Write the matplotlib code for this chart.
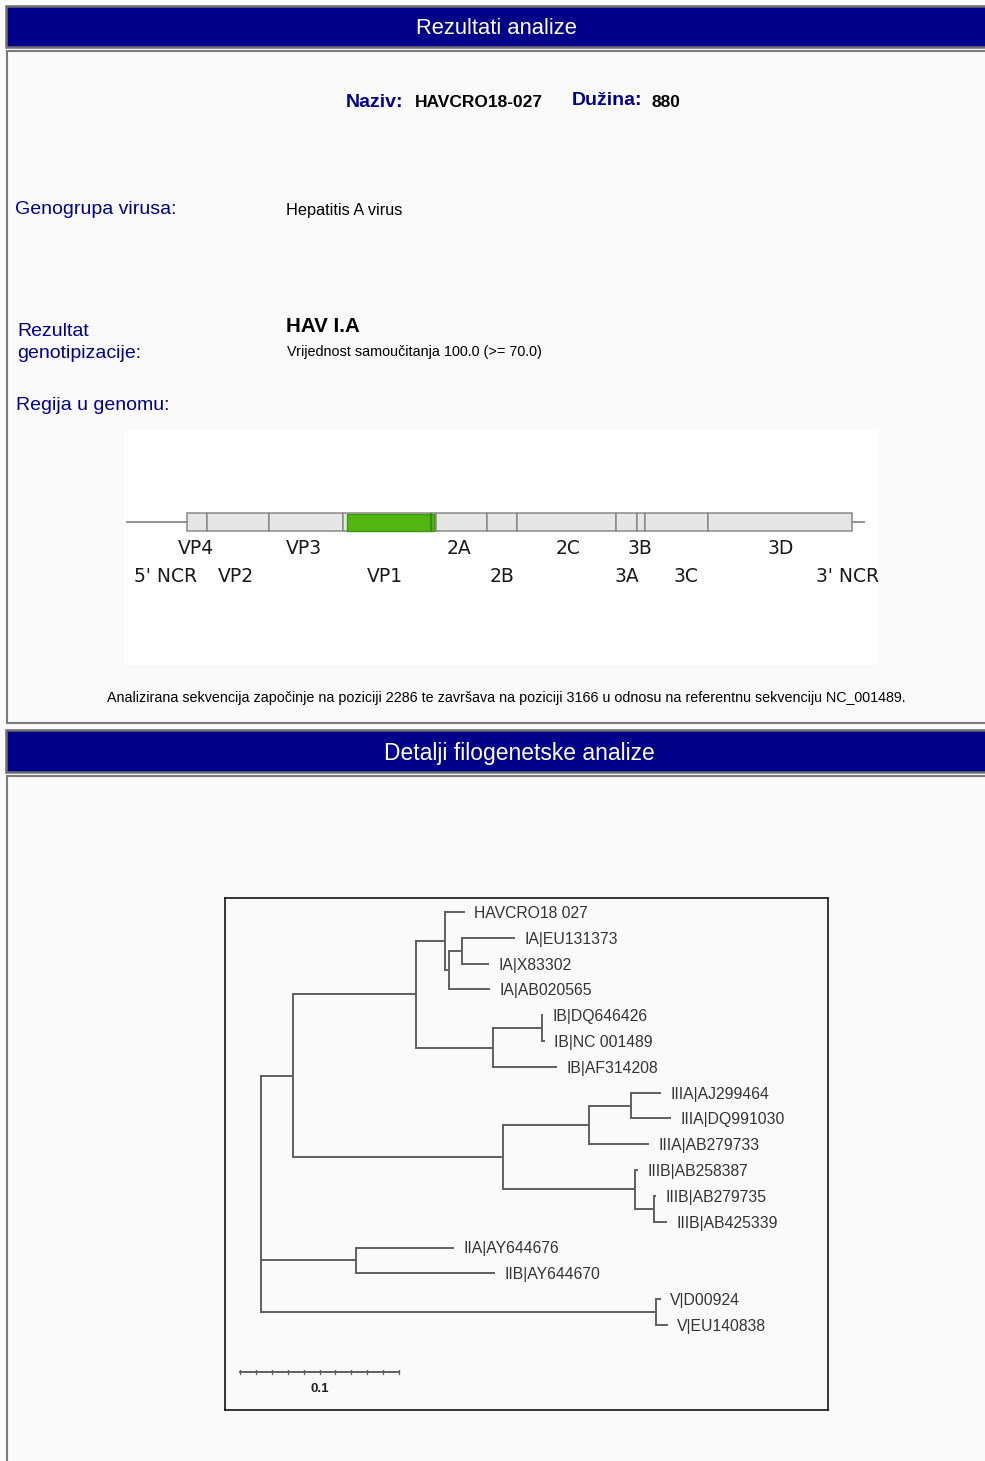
import matplotlib
matplotlib.use("Agg")
import matplotlib.pyplot as plt
from matplotlib.patches import Rectangle

# ---------------- data ----------------
sample_name = "HAVCRO18-027"
sample_length = 880
genogroup = "Hepatitis A virus"
genotype = "HAV I.A"
bootstrap = 100.0
bootstrap_cut = 70.0
query_start, query_end = 2286, 3166
reference_id = "NC_001489"

# genome schematic (schematic units along the drawn bar)
region_names = ["5' NCR", "VP4", "VP2", "VP3", "VP1", "2A", "2B", "2C",
                "3A", "3B", "3C", "3D", "3' NCR"]
region_breaks = [-60, 0, 20, 82, 156, 249, 300, 330, 429, 450, 458, 521, 665, 677]
label_x = [-21, 9, 49, 117, 198, 272, 315, 381, 440, 453, 499, 594, 661]
query_span = [160, 247]   # schematic position of analysed sequence

# phylogenetic tree (branch lengths, substitutions/site), leaves top to bottom
tree = [
    ([
        ([
            ([("HAVCRO18 027", 0.0123),
              ([([("IA|EU131373", 0.0331), ("IA|X83302", 0.0169)], 0.0080),
                ("IA|AB020565", 0.0256)], 0.0025)], 0.0187),
            ([([("IB|DQ646426", 0.0005), ("IB|NC 001489", 0.0017)], 0.0306),
              ("IB|AF314208", 0.0400)], 0.0490),
        ], 0.0772),
        ([
            ([([("IIIA|AJ299464", 0.0187), ("IIIA|DQ991030", 0.0249)], 0.0261),
              ("IIIA|AB279733", 0.0372)], 0.0542),
            ([("IIIB|AB258387", 0.0020),
              ([("IIIB|AB279735", 0.0013), ("IIIB|AB425339", 0.0082)], 0.0118)], 0.0830),
        ], 0.1324),
    ], 0.0200),
    ([("IIA|AY644676", 0.0619), ("IIB|AY644670", 0.0876)], 0.0595),
    ([("V|D00924", 0.0031), ("V|EU140838", 0.0075)], 0.2484),
]
scale_bar_len = 0.1

# ---------------- style ----------------
W, H = 985, 1461
BG = "#fafafa"
NAVY = "#000088"
LBL = "#00008b"
FONT = ["Liberation Sans", "DejaVu Sans"]

fig = plt.figure(figsize=(W / 100, H / 100), dpi=100, facecolor=BG)
page = fig.add_axes([0, 0, 1, 1])
page.set_xlim(0, W)
page.set_ylim(H, 0)
page.axis("off")
page.set_facecolor(BG)


def px_axes(x0, y0, x1, y1, **kw):
    return fig.add_axes([x0 / W, 1 - y1 / H, (x1 - x0) / W, (y1 - y0) / H], **kw)


def title_bar(y0, y1, text, cx, fs):
    page.add_patch(Rectangle((6, y0), W, y1 - y0, facecolor=NAVY,
                             edgecolor="#6e6e6e", lw=1.8))
    page.text(cx, (y0 + y1) / 2 + 2.5, text, color="white",
              ha="center", va="center", fontsize=fs, family=FONT)


def panel(y0, y1):
    page.add_patch(Rectangle((7, y0), W, y1 - y0, facecolor=BG,
                             edgecolor="#7a7a7a", lw=1.5))


title_bar(6, 47, "Rezultati analize", 496, 15.8)
panel(51, 723)
title_bar(730, 772, "Detalji filogenetske analize", 519, 16.5)
panel(776, H + 5)

# header line
page.text(346, 102.5, "Naziv:", color=LBL, fontsize=14, fontweight="bold",
          family=FONT, va="center")
page.text(415, 102.5, sample_name, color="black", fontsize=12.5, fontweight="bold",
          family=FONT, va="center")
page.text(572, 100.5, "Dužina:", color=LBL, fontsize=14, fontweight="bold",
          family=FONT, va="center")
page.text(651, 102.5, str(sample_length), color="black", fontsize=12.5,
          fontweight="bold", family=FONT, va="center")

page.text(15, 209, "Genogrupa virusa:", color=LBL, fontsize=14, family=FONT, va="center")
page.text(286, 210, genogroup, color="black", fontsize=11.7, family=FONT, va="center")

page.text(17, 331, "Rezultat", color=LBL, fontsize=14, family=FONT, va="center")
page.text(17, 354, "genotipizacije:", color=LBL, fontsize=14, family=FONT, va="center")
page.text(286, 327, genotype, color="black", fontsize=14.8, fontweight="bold",
          family=FONT, va="center")
page.text(287, 352, f"Vrijednost samoučitanja {bootstrap:.1f} (>= {bootstrap_cut:.1f})",
          color="black", fontsize=10.4, family=FONT, va="center")
page.text(16, 405, "Regija u genomu:", color=LBL, fontsize=14, family=FONT, va="center")

page.text(506, 698,
          f"Analizirana sekvencija započinje na poziciji {query_start} te završava na "
          f"poziciji {query_end} u odnosu na referentnu sekvenciju {reference_id}.",
          color="black", fontsize=10.3, family=FONT, ha="center", va="center")

# ---------------- genome map ----------------
gx = px_axes(124, 430, 878, 665)
gx.set_facecolor("white")
gx.set_xlim(-63, 691)
gx.set_ylim(235, 0)
gx.set_xticks([])
gx.set_yticks([])
for s in gx.spines.values():
    s.set_visible(False)

bar_y0, bar_y1 = 83, 101
bar_mid = (bar_y0 + bar_y1) / 2
gx.plot([region_breaks[0], region_breaks[1]], [bar_mid, bar_mid], color="#8a8a8a", lw=1.3)
gx.plot([region_breaks[-2], region_breaks[-1]], [bar_mid, bar_mid], color="#8a8a8a", lw=1.3)
for a, b in zip(region_breaks[1:-2], region_breaks[2:-1]):
    gx.add_patch(Rectangle((a, bar_y0), b - a, bar_y1 - bar_y0, facecolor="#e6e6e6",
                           edgecolor="#8a8a8a", lw=1.1))
gx.add_patch(Rectangle((query_span[0], bar_y0 + 0.5), query_span[1] - query_span[0],
                       bar_y1 - bar_y0 - 1, facecolor="#52b512", edgecolor="#3f9a0a",
                       lw=1.0, zorder=3))
gx.plot([query_span[1] - 3, query_span[1] - 3], [bar_y0 + 1, bar_y1 - 1],
        color="#3a8a0a", lw=1.5, zorder=4)
for i, (name, lx) in enumerate(zip(region_names, label_x)):
    gy = 147 if i % 2 == 0 else 119
    gx.text(lx, gy, name, ha="center", va="center", fontsize=13.5,
            family="DejaVu Sans", color="#1a1a1a")

# ---------------- tree ----------------
tx0, ty0, tx1, ty1 = 225, 898, 828, 1410
root_px, px_per_unit = 261, 1590
leaf_top, leaf_step = 912, 25.81
tax = px_axes(tx0, ty0, tx1, ty1)
tax.set_facecolor(BG)
tax.set_xlim(-(root_px - tx0) / px_per_unit, (tx1 - root_px) / px_per_unit)
tax.set_ylim((ty1 - leaf_top) / leaf_step, (ty0 - leaf_top) / leaf_step)
tax.set_xticks([])
tax.set_yticks([])
for s in tax.spines.values():
    s.set_color("black")
    s.set_linewidth(1.1)

LC = "#5f5f5f"
LW = 1.4
leaf_counter = [0]


def draw(node, x_parent):
    content, bl = node
    x = x_parent + bl
    if isinstance(content, str):
        y = leaf_counter[0]
        leaf_counter[0] += 1
        tax.plot([x_parent, x], [y, y], color=LC, lw=LW, solid_capstyle="butt")
        tax.annotate(content, (x, y), xytext=(6.8, -1), textcoords="offset points",
                     va="center", ha="left", fontsize=11.3, family=FONT, color="#333333")
        return y
    ys = [draw(ch, x) for ch in content]
    y = (ys[0] + ys[-1]) / 2
    tax.plot([x, x], [ys[0], ys[-1]], color=LC, lw=LW, solid_capstyle="projecting")
    tax.plot([x_parent, x], [y, y], color=LC, lw=LW, solid_capstyle="butt")
    return y


child_ys = [draw(ch, 0.0) for ch in tree]
tax.plot([0, 0], [child_ys[0], child_ys[-1]], color=LC, lw=LW)

# scale bar
sb_x0 = -(root_px - 240) / px_per_unit
sb_y = (1372 - leaf_top) / leaf_step
tax.plot([sb_x0, sb_x0 + scale_bar_len], [sb_y, sb_y], color="#5f5f5f", lw=1.4)
for k in range(11):
    xx = sb_x0 + scale_bar_len * k / 10
    tax.plot([xx, xx], [sb_y - 0.06, sb_y + 0.06], color="#5f5f5f", lw=0.9)
tax.text(sb_x0 + scale_bar_len / 2, (1389 - leaf_top) / leaf_step, f"{scale_bar_len:g}",
         ha="center", va="center", fontsize=9.5, fontweight="bold", family=FONT,
         color="#222222")

fig.savefig("out.png", dpi=100, facecolor=BG)
